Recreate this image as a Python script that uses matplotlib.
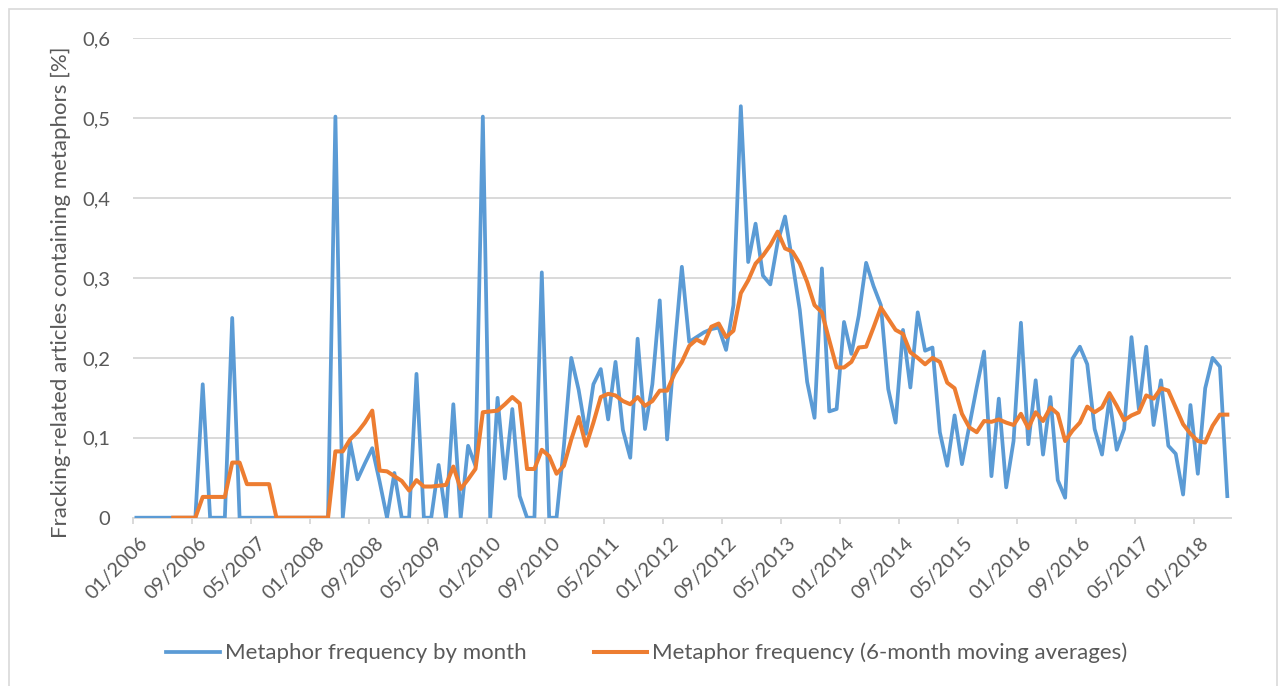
import numpy as np
import matplotlib
matplotlib.use("Agg")
import matplotlib.pyplot as plt
import matplotlib.transforms as mtransforms
from matplotlib.patches import Rectangle

plt.rcParams['font.family'] = ['Lato', 'DejaVu Sans']

# ---------------- data ----------------
start_year = 2006
start_month = 1

monthly = [
    0, 0, 0, 0, 0, 0, 0, 0, 0, 0.167,
    0, 0, 0, 0.25, 0, 0, 0, 0, 0, 0,
    0, 0, 0, 0, 0, 0, 0, 0.502, 0, 0.095,
    0.048, 0.068, 0.087, 0.045, 0, 0.056, 0, 0, 0.18, 0,
    0, 0.066, 0, 0.142, 0, 0.09, 0.065, 0.502, 0, 0.15,
    0.049, 0.136, 0.027, 0, 0, 0.307, 0, 0, 0.09, 0.2,
    0.16, 0.105, 0.167, 0.186, 0.123, 0.195, 0.11, 0.075, 0.224, 0.111,
    0.167, 0.272, 0.098, 0.21, 0.314, 0.22, 0.226, 0.232, 0.236, 0.238,
    0.21, 0.266, 0.515, 0.32, 0.368, 0.303, 0.292, 0.345, 0.377, 0.32,
    0.26, 0.17, 0.125, 0.312, 0.133, 0.136, 0.245, 0.205, 0.253, 0.319,
    0.29, 0.266, 0.161, 0.119, 0.235, 0.163, 0.257, 0.209, 0.213, 0.107,
    0.065, 0.128, 0.067, 0.115, 0.163, 0.208, 0.052, 0.149, 0.038, 0.096,
    0.244, 0.092, 0.172, 0.079, 0.151, 0.047, 0.025, 0.199, 0.214, 0.192,
    0.111, 0.079, 0.149, 0.085, 0.111, 0.226, 0.136, 0.214, 0.116, 0.172,
    0.09, 0.08, 0.029, 0.141, 0.055, 0.162, 0.2, 0.189, 0.027,
]

moving_avg = [
    None, None, None, None, None, 0, 0, 0, 0, 0.026,
    0.026, 0.026, 0.026, 0.069, 0.069, 0.042, 0.042, 0.042, 0.042, 0,
    0, 0, 0, 0, 0, 0, 0, 0.083, 0.083, 0.098,
    0.107, 0.119, 0.134, 0.059, 0.058, 0.052, 0.046, 0.034, 0.047, 0.039,
    0.039, 0.04, 0.041, 0.064, 0.036, 0.048, 0.061, 0.132, 0.133, 0.134,
    0.142, 0.151, 0.143, 0.061, 0.061, 0.085, 0.077, 0.055, 0.065, 0.098,
    0.126, 0.09, 0.119, 0.151, 0.155, 0.153, 0.146, 0.142, 0.151, 0.14,
    0.146, 0.159, 0.159, 0.18, 0.195, 0.215, 0.223, 0.218, 0.239, 0.243,
    0.226, 0.234, 0.281, 0.297, 0.318, 0.328, 0.341, 0.358, 0.337, 0.333,
    0.318, 0.295, 0.266, 0.257, 0.222, 0.188, 0.188, 0.195, 0.213, 0.214,
    0.238, 0.263, 0.249, 0.235, 0.23, 0.207, 0.2, 0.192, 0.2, 0.195,
    0.169, 0.162, 0.13, 0.113, 0.107, 0.121, 0.12, 0.123, 0.119, 0.116,
    0.13, 0.112, 0.132, 0.121, 0.138, 0.13, 0.096, 0.109, 0.119, 0.139,
    0.132, 0.138, 0.156, 0.14, 0.122, 0.128, 0.132, 0.153, 0.149, 0.162,
    0.159, 0.138, 0.117, 0.105, 0.096, 0.094, 0.115, 0.129, 0.129,
]

y_ticks = [0, 0.1, 0.2, 0.3, 0.4, 0.5, 0.6]
y_tick_labels = ["0", "0,1", "0,2", "0,3", "0,4", "0,5", "0,6"]
label_step = 8  # months between x labels

series_names = ["Metaphor frequency by month",
                "Metaphor frequency (6-month moving averages)"]
y_title = "Fracking-related articles containing metaphors [%]"

# ---------------- derived ----------------
n = len(monthly)
idx = np.arange(n)
x = idx + 0.5
blue = np.array(monthly, dtype=float)
orange = np.array([np.nan if v is None else v for v in moving_avg], dtype=float)

tick_idx = list(range(0, n, label_step))
tick_labels = []
for t in tick_idx:
    m = start_month - 1 + t
    tick_labels.append(f"{m % 12 + 1:02d}/{start_year + m // 12}")

# ---------------- figure ----------------
W, H = 1281, 686
fig = plt.figure(figsize=(W / 100, H / 100), dpi=100)
fig.patch.set_facecolor("white")

L, R, T, B = 132.7, 1231.0, 38.3, 517.7
ax = fig.add_axes([L / W, 1 - B / H, (R - L) / W, (B - T) / H])

BLUE = "#5B9BD5"
ORANGE = "#ED7D31"
GRID = "#D9D9D9"
TXT = "#595959"

ax.plot(x, blue, color=BLUE, lw=2.7, solid_joinstyle="round", zorder=3)
ax.plot(x, orange, color=ORANGE, lw=2.9, solid_joinstyle="round", zorder=4)

ax.set_xlim(0, n)
ax.set_ylim(0, 0.6)
ax.set_yticks(y_ticks)
ax.set_yticklabels(y_tick_labels)
ax.yaxis.grid(True, color=GRID, lw=1.4)
ax.set_axisbelow(True)
for s in ["left", "right", "top"]:
    ax.spines[s].set_visible(False)
ax.spines["bottom"].set_color(GRID)
ax.spines["bottom"].set_linewidth(1.4)

ax.tick_params(axis="y", length=0, pad=16, labelsize=14.5, labelcolor=TXT)
ax.set_xticks(tick_idx)
ax.set_xticklabels(tick_labels, rotation=45, ha="right", va="top",
                   rotation_mode="anchor")
ax.tick_params(axis="x", length=4, width=1.4, color=GRID, pad=8,
               labelsize=14.5, labelcolor=TXT)
offset = mtransforms.ScaledTranslation(6 / 100, 0, fig.dpi_scale_trans)
for lab in ax.get_xticklabels():
    lab.set_transform(lab.get_transform() + offset)

fig.text(61 / W, 1 - 292 / H, y_title, rotation=90, ha="center", va="center",
         fontsize=16, color=TXT)

handles = ax.get_lines()
fig.legend(handles, series_names, loc="center", ncol=2,
           bbox_to_anchor=(647 / W, 1 - 653 / H), frameon=False,
           fontsize=16, labelcolor=TXT, handlelength=2.4,
           handletextpad=0.25, columnspacing=3.0)

# outer chart border
fig.add_artist(Rectangle((9 / W, -0.02), (1277 - 9) / W, 1 - 9 / H + 0.02,
                         transform=fig.transFigure, fill=False,
                         edgecolor=GRID, lw=1.2))

fig.savefig("out.png", dpi=100)
